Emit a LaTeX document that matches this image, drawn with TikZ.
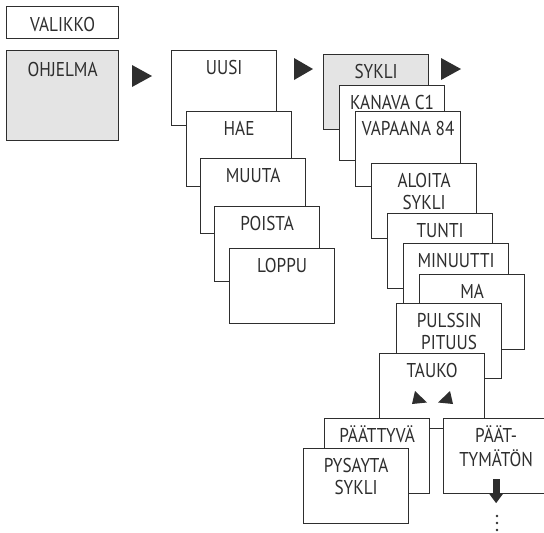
\documentclass[tikz,border=0pt]{standalone}
\usepackage{fontspec}
\setmainfont{PT Sans}[FakeStretch=0.86]
\usepackage{xcolor}
\usepackage{tikz}
\usetikzlibrary{arrows.meta}
\definecolor{menugray}{HTML}{E4E4E4}
\definecolor{ink}{HTML}{2E2E2E}
\newcommand{\twolines}[2]{\begin{tabular}[t]{@{}c@{}}#1\\#2\end{tabular}}
\tikzset{
  menubox/.style={draw=ink, line width=0.6pt, fill=white, anchor=north west, inner sep=0pt,
    minimum width=52.5pt, text height=12pt, text depth=25.5pt, text=ink,
    font=\fontsize{10}{11}\selectfont},
  selbox/.style={menubox, fill=menugray},
  nextarrow/.style={fill=ink},
}

\begin{document}
\begin{tikzpicture}[x=0.5pt, y=-0.5pt]%
\useasboundingbox (0,0) rectangle (544,532);%
% main menu
\node[menubox, minimum width=56pt, text height=12.5pt, text depth=3.5pt] (valikko) at (6,6) {VALIKKO};%
\node[selbox, minimum width=56pt, text height=13pt, text depth=32pt] (ohjelma) at (6,50) {OHJELMA};%
\fill[nextarrow] (132,65) -- (132,87) -- (152,76) -- cycle;%
% program menu
\node[menubox] (uusi) at (171,50) {UUSI};%
\node[menubox] (hae) at (186,111) {HAE};%
\node[menubox] (muuta) at (200,158) {MUUTA};%
\node[menubox] (poista) at (214,206) {POISTA};%
\node[menubox] (loppu) at (229,248) {LOPPU};%
\fill[nextarrow] (294,58) -- (294,80) -- (313,69) -- cycle;%
% cycle settings
\node[selbox] (sykli) at (323,54) {SYKLI};%
\fill[nextarrow] (441,58) -- (441,80) -- (461,69) -- cycle;%
\node[menubox] (kanava) at (339,85) {KANAVA C1};%
\node[menubox] (vapaana) at (355,111) {VAPAANA 84};%
\node[menubox] (aloita) at (371,163) {\twolines{ALOITA}{SYKLI}};%
\node[menubox] (tunti) at (387,213) {TUNTI};%
\node[menubox] (minuutti) at (403,243) {MINUUTTI};%
\node[menubox] (ma) at (419,274) {MA};%
\node[menubox] (pulssi) at (396,303) {\twolines{PULSSIN}{PITUUS}};%
\node[menubox] (tauko) at (379,353) {TAUKO};%
\fill[nextarrow] (415,391) -- (412,404) -- (427,402.5) -- cycle;%
\fill[nextarrow] (450,391) -- (453,404) -- (438,402.5) -- cycle;%
% end of the pause
\node[menubox] (paattyva) at (324,418) {PÄÄTTYVÄ};%
\node[menubox] (pysayta) at (303,448) {\twolines{PYSAYTA}{SYKLI}};%
\node[menubox] (tymaton) at (443,418) {\twolines{PÄÄT-}{TYMÄTÖN}};%
\draw[ink, line width=3.5pt, -{Triangle[length=5pt, width=7pt]}] ([yshift=7.5pt]tymaton.south) -- ([yshift=-4.5pt]tymaton.south);%
\foreach \y in {516,523,530} {\fill[ink] (497,\y) circle (0.7pt);}%
\end{tikzpicture}
\end{document}
